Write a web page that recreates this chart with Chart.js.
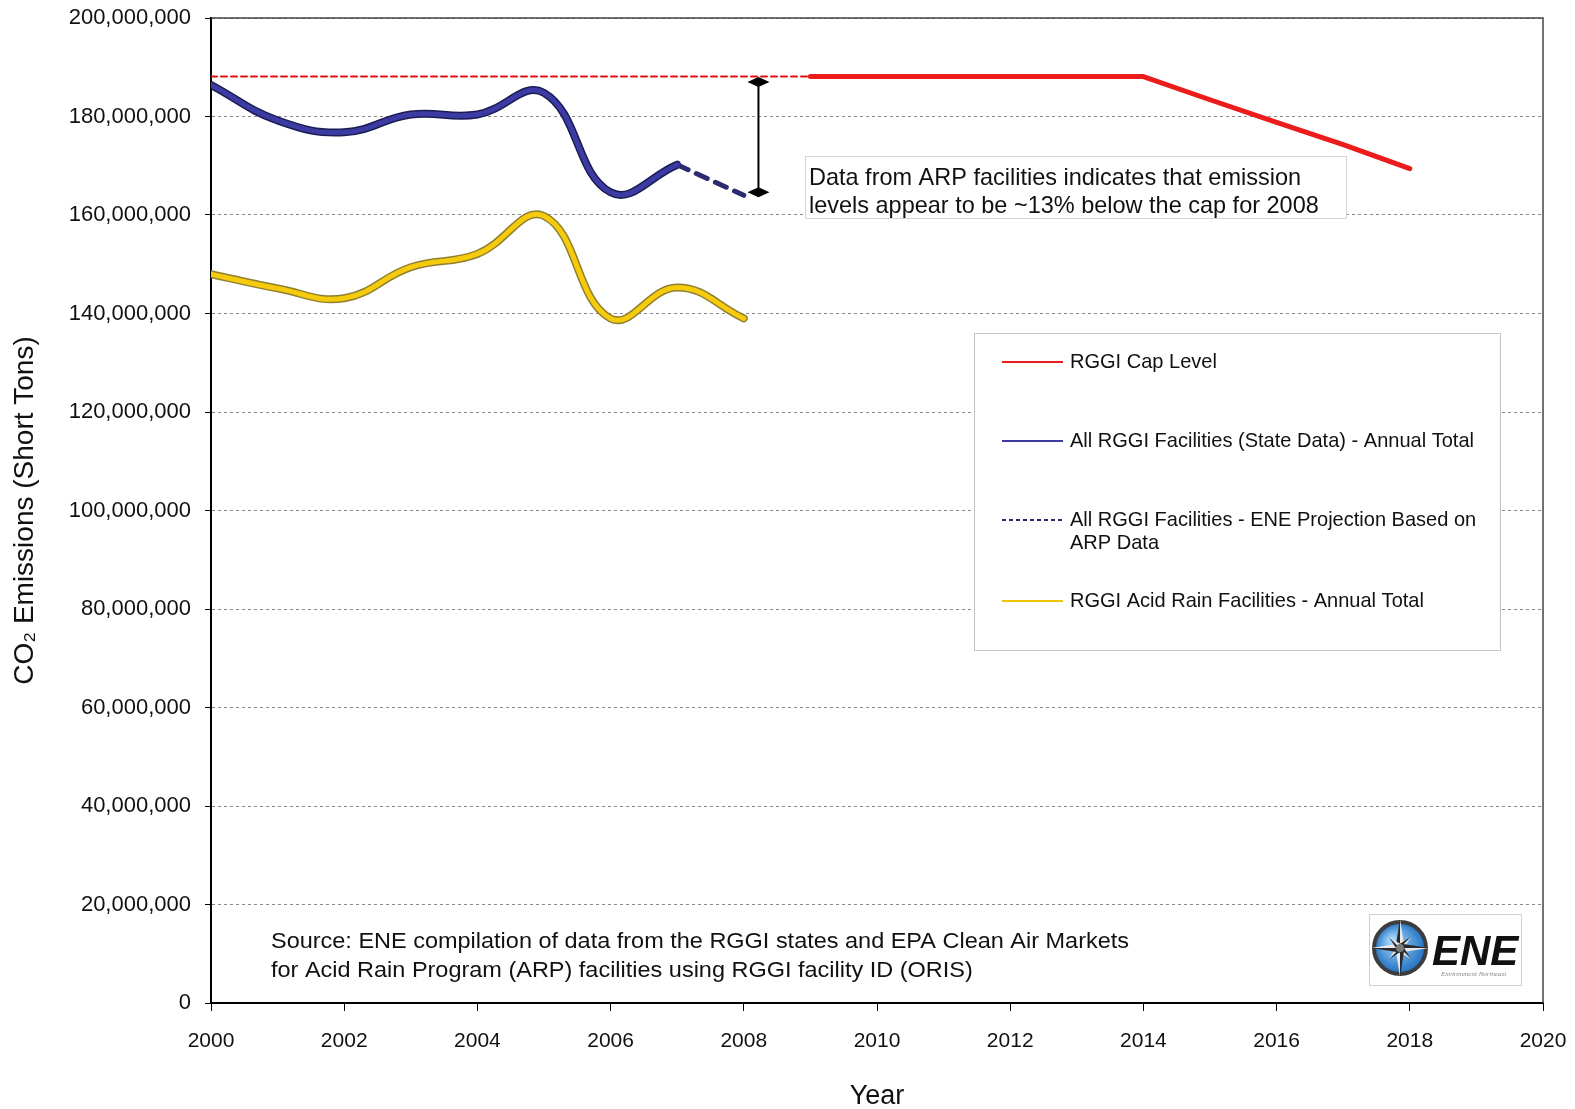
<!DOCTYPE html>
<html>
<head>
<meta charset="utf-8">
<script src="https://cdn.jsdelivr.net/npm/chart.js@4.4.1/dist/chart.umd.min.js"></script>
<style>
  body { margin: 0; background: #fff; }
  #wrap { width: 1575px; height: 1109px; }
</style>
</head>
<body>
<div id="wrap"><canvas id="myChart"></canvas></div>
<script>
const stateYears = [2000, 2001, 2002, 2003, 2004, 2005, 2006, 2007];
const stateTotal = [186400000, 179200000, 176800000, 180400000, 180400000, 184800000, 164600000, 170200000];

const projectionYears = [2007, 2008];
const projection = [170200000, 164000000];

const acidYears = [2000, 2001, 2002, 2003, 2004, 2005, 2006, 2007, 2008];
const acidRain = [148000000, 145100000, 143100000, 149400000, 152100000, 159800000, 139000000, 145300000, 139000000];

const capYears = [2009, 2010, 2011, 2012, 2013, 2014, 2015, 2016, 2017, 2018];
const capLevel = [188100000, 188100000, 188100000, 188100000, 188100000, 188100000, 183400000, 178800000, 174300000, 169400000];

const capRefYears = [2000, 2009];
const capRef = [188100000, 188100000];

const xTicks = [2000, 2002, 2004, 2006, 2008, 2010, 2012, 2014, 2016, 2018, 2020];
const yTicks = [0, 20000000, 40000000, 60000000, 80000000, 100000000, 120000000, 140000000, 160000000, 180000000, 200000000];

const legendLabels = [
  'RGGI Cap Level',
  'All RGGI Facilities (State Data) - Annual Total',
  'All RGGI Facilities - ENE Projection Based on\nARP Data',
  'RGGI Acid Rain Facilities - Annual Total',
];

const sourceNote = [
  'Source: ENE compilation of data from the RGGI states and EPA Clean Air Markets',
  'for Acid Rain Program (ARP) facilities using RGGI facility ID (ORIS)',
];
const calloutText = [
  'Data from ARP facilities indicates that emission',
  'levels appear to be ~13% below the cap for 2008',
];

const pts = (xs, ys) => ys.map((y, i) => ({ x: xs[i], y: y }));

const FONT = '"Liberation Sans", Arial, sans-serif';

const RED = '#ec1c1c';
const BLUE = '#3b3ba3';
const NAVY = '#2b2b70';
const GOLD = '#f6cb0c';

const data = {
  datasets: [
    { data: pts(acidYears, acidRain), borderColor: GOLD, borderWidth: 5, tension: 0.42, order: 1 },
    { data: pts(acidYears, acidRain), borderColor: '#8f7f30', borderWidth: 8, tension: 0.42, order: 2 },
    { data: pts(stateYears, stateTotal), borderColor: BLUE, borderWidth: 5, tension: 0.42, order: 3 },
    { data: pts(stateYears, stateTotal), borderColor: '#1c1c55', borderWidth: 8, tension: 0.42, order: 4 },
    { data: pts(projectionYears, projection), borderColor: NAVY, borderWidth: 5, borderDash: [12, 9], order: 3 },
    { data: pts(capYears, capLevel), borderColor: RED, borderWidth: 5, order: 5 },
    { data: pts(capRefYears, capRef), borderColor: '#e01010', borderWidth: 2, borderDash: [6, 4], order: 6 },
  ],
};

function drawLogo(ctx, x, y, w, h) {
  ctx.save();
  ctx.fillStyle = '#fff';
  ctx.fillRect(x, y, w, h);
  ctx.strokeStyle = '#cfcfcf';
  ctx.lineWidth = 1;
  ctx.strokeRect(x + 0.5, y + 0.5, w, h);

  const cx = x + 31, cy = y + 34, r = 26;
  const g = ctx.createRadialGradient(cx - 8, cy - 8, 3, cx, cy, r);
  g.addColorStop(0, '#9fd2f7');
  g.addColorStop(1, '#1f6fc2');
  ctx.beginPath();
  ctx.arc(cx, cy, r, 0, Math.PI * 2);
  ctx.fillStyle = g;
  ctx.fill();
  ctx.lineWidth = 4;
  ctx.strokeStyle = '#3d3d3d';
  ctx.stroke();

  // compass star
  for (let k = 0; k < 8; k++) {
    const a = k * Math.PI / 4 - Math.PI / 2;
    const len = k % 2 === 0 ? r + 3 : r * 0.62;
    const half = k % 2 === 0 ? 4.5 : 3.5;
    const tx = cx + Math.cos(a) * len, ty = cy + Math.sin(a) * len;
    const lx = cx + Math.cos(a - Math.PI / 2) * half, ly = cy + Math.sin(a - Math.PI / 2) * half;
    const rx = cx + Math.cos(a + Math.PI / 2) * half, ry = cy + Math.sin(a + Math.PI / 2) * half;
    ctx.beginPath(); ctx.moveTo(cx, cy); ctx.lineTo(lx, ly); ctx.lineTo(tx, ty); ctx.closePath();
    ctx.fillStyle = '#2a2a2a'; ctx.fill();
    ctx.beginPath(); ctx.moveTo(cx, cy); ctx.lineTo(rx, ry); ctx.lineTo(tx, ty); ctx.closePath();
    ctx.fillStyle = '#e8e8e8'; ctx.fill();
  }
  ctx.beginPath();
  ctx.arc(cx, cy, 4, 0, Math.PI * 2);
  ctx.fillStyle = '#7a7a7a';
  ctx.fill();

  ctx.fillStyle = '#111';
  ctx.font = 'italic bold 42px ' + FONT;
  ctx.textBaseline = 'alphabetic';
  ctx.fillText('ENE', x + 63, y + 51);
  ctx.fillStyle = '#888';
  ctx.font = 'italic 7px "Liberation Serif", serif';
  ctx.fillText('Environment Northeast', x + 72, y + 62);
  ctx.restore();
}

const overlay = {
  id: 'overlay',
  afterDatasetsDraw(chart) {
    const { ctx, chartArea: a, scales: { x, y } } = chart;
    ctx.save();

    // plot frame, top and right sides
    ctx.strokeStyle = '#444';
    ctx.lineWidth = 1.5;
    ctx.beginPath();
    ctx.moveTo(a.left, a.top);
    ctx.lineTo(a.right, a.top);
    ctx.lineTo(a.right, a.bottom);
    ctx.stroke();

    // gap arrow between cap and 2008 projection
    const ax = x.getPixelForValue(2008.22);
    const ay1 = y.getPixelForValue(187000000);
    const ay2 = y.getPixelForValue(164600000);
    ctx.strokeStyle = '#000';
    ctx.lineWidth = 2;
    ctx.beginPath();
    ctx.moveTo(ax, ay1);
    ctx.lineTo(ax, ay2);
    ctx.stroke();
    ctx.fillStyle = '#000';
    [ay1, ay2].forEach(py => {
      ctx.beginPath();
      ctx.moveTo(ax - 11, py);
      ctx.lineTo(ax, py - 5);
      ctx.lineTo(ax + 11, py);
      ctx.lineTo(ax, py + 5);
      ctx.closePath();
      ctx.fill();
    });

    // callout box
    ctx.fillStyle = '#fff';
    ctx.fillRect(805, 156, 541, 62);
    ctx.strokeStyle = '#d4d4d4';
    ctx.lineWidth = 1;
    ctx.strokeRect(805.5, 156.5, 541, 62);
    ctx.fillStyle = '#111';
    ctx.textBaseline = 'middle';
    ctx.font = '24px ' + FONT;
    let s = 492 / ctx.measureText(calloutText[0]).width;
    ctx.save();
    ctx.translate(809, 0);
    ctx.scale(s, 1);
    ctx.fillText(calloutText[0], 0, 178);
    ctx.fillText(calloutText[1], 0, 206);
    ctx.restore();

    // legend
    const lx = 974, ly = 333, lw = 526, lh = 317;
    ctx.fillStyle = '#fff';
    ctx.fillRect(lx, ly, lw, lh);
    ctx.strokeStyle = '#c4c4c4';
    ctx.strokeRect(lx + 0.5, ly + 0.5, lw, lh);
    const rows = [362, 441, 520, 601];
    const styles = [
      { c: RED, dash: [] },
      { c: BLUE, dash: [] },
      { c: NAVY, dash: [4, 3] },
      { c: '#f0c400', dash: [] },
    ];
    ctx.font = '21px ' + FONT;
    s = 404 / ctx.measureText('All RGGI Facilities (State Data) - Annual Total').width;
    rows.forEach((ry, i) => {
      ctx.strokeStyle = styles[i].c;
      ctx.setLineDash(styles[i].dash);
      ctx.lineWidth = 2;
      ctx.beginPath();
      ctx.moveTo(1002, ry);
      ctx.lineTo(1063, ry);
      ctx.stroke();
      ctx.setLineDash([]);
      ctx.fillStyle = '#111';
      ctx.save();
      ctx.translate(1070, 0);
      ctx.scale(s, 1);
      legendLabels[i].split('\n').forEach((t, j) => ctx.fillText(t, 0, ry + j * 23));
      ctx.restore();
    });

    // source note
    ctx.fillStyle = '#111';
    ctx.font = '22px ' + FONT;
    s = 858 / ctx.measureText(sourceNote[0]).width;
    ctx.save();
    ctx.translate(271, 0);
    ctx.scale(s, 1);
    ctx.fillText(sourceNote[0], 0, 942);
    ctx.fillText(sourceNote[1], 0, 971);
    ctx.restore();

    drawLogo(ctx, 1369, 914, 152, 71);
    ctx.restore();
  },
};

const config = {
  type: 'line',
  data: data,
  options: {
    responsive: true,
    maintainAspectRatio: false,
    animation: false,
    events: [],
    layout: { padding: { top: 18, right: 32, left: 0, bottom: 0 } },
    elements: { point: { radius: 0 }, line: { borderCapStyle: 'round', borderJoinStyle: 'round' } },
    plugins: { legend: { display: false }, tooltip: { enabled: false } },
    scales: {
      x: {
        type: 'linear',
        min: 2000,
        max: 2020,
        afterBuildTicks: (scale) => { scale.ticks = xTicks.map(v => ({ value: v })); },
        afterFit: (scale) => {
          scale.height = 106;
          scale.paddingLeft = 0;
          scale.paddingRight = 0;
        },
        ticks: {
          color: '#111',
          font: { family: FONT, size: 21 },
          padding: 18,
          maxRotation: 0,
          callback: (v) => String(v),
        },
        grid: { drawOnChartArea: false, drawTicks: true, tickLength: 8, color: '#000', lineWidth: 1 },
        border: { color: '#000', width: 2 },
        title: {
          display: true,
          text: 'Year',
          color: '#111',
          font: { family: FONT, size: 27, lineHeight: 0.9 },
          padding: { top: 0, bottom: 0 },
        },
      },
      y: {
        min: 0,
        max: 200000000,
        afterBuildTicks: (scale) => { scale.ticks = yTicks.map(v => ({ value: v })); },
        afterFit: (scale) => {
          scale.width = 211;
          scale.paddingTop = 0;
          scale.paddingBottom = 0;
        },
        ticks: {
          color: '#111',
          font: { family: FONT, size: 22 },
          padding: 14,
          callback: (v) => v.toLocaleString('en-US'),
        },
        grid: {
          color: '#8a8a8a',
          lineWidth: 1,
          tickLength: 6,
          tickColor: '#000',
          tickBorderDash: [],
        },
        // in v4 border.dash sets the dash of the grid lines
        border: { color: '#000', width: 2, dash: [3, 3] },
        title: {
          display: true,
          text: 'CO\u2082 Emissions (Short Tons)',
          color: '#111',
          font: { family: FONT, size: 28 },
          padding: { top: 8, bottom: 0 },
        },
      },
    },
  },
  plugins: [overlay],
};

const myChart = new Chart(document.getElementById('myChart').getContext('2d'), config);
</script>
</body>
</html>
